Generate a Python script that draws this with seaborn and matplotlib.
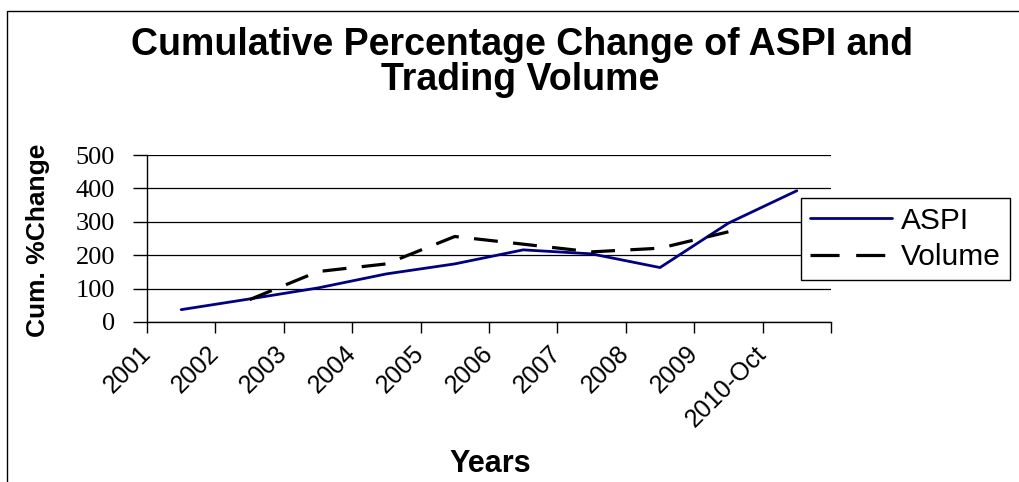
import numpy as np
import pandas as pd
import matplotlib
matplotlib.use("Agg")
import matplotlib.pyplot as plt
from matplotlib.patches import Rectangle
from matplotlib.transforms import ScaledTranslation
import seaborn as sns

# ---- data ----
years = ["2001", "2002", "2003", "2004", "2005", "2006", "2007", "2008", "2009", "2010-Oct"]
aspi = [37, 69, 102, 144, 174, 216, 204, 163, 296, 393]
volume = [np.nan, 67, 151, 174, 256, 233, 210, 221, 270, np.nan]
yticks = [0, 100, 200, 300, 400, 500]

sns.set_theme(style="white")
plt.rcParams["font.family"] = ["Liberation Sans", "DejaVu Sans"]
plt.rcParams["text.color"] = "black"
plt.rcParams["xtick.color"] = "black"
plt.rcParams["ytick.color"] = "black"
plt.rcParams["axes.labelcolor"] = "black"

W, H = 1020, 482
fig = plt.figure(figsize=(W / 100, H / 100), dpi=100)
ax = fig.add_axes([147 / W, 1 - 322 / H, (831 - 147) / W, (322 - 155) / H])

df = pd.DataFrame({"Year": years, "ASPI": aspi, "Volume": volume})

sns.lineplot(data=df, x="Year", y="ASPI", ax=ax, color="#000080", lw=2.0,
             label="ASPI", sort=False)
vol_df = df.dropna(subset=["Volume"])
sns.lineplot(x=vol_df["Year"], y=vol_df["Volume"], ax=ax, color="black", lw=2.3,
             label="Volume", sort=False, dashes=False)
ax.lines[1].set_dashes([7.5, 4.8])
ax.lines[1].set_dash_capstyle("butt")

ax.set_xlim(-0.5, len(years) - 0.5)
ax.set_ylim(0, 500)
ax.set_yticks(yticks)
ax.set_yticklabels([str(v) for v in yticks], fontfamily="Liberation Serif", fontsize=19)

ax.set_xticks(np.arange(-0.5, len(years), 1.0))
ax.set_xticklabels(years + [""], rotation=45, ha="right", va="center",
                   rotation_mode="anchor", fontsize=18)
shift = ScaledTranslation(7 / 100, 0, fig.dpi_scale_trans)
for lab in ax.get_xticklabels():
    lab.set_transform(lab.get_transform() + shift)

ax.tick_params(axis="y", direction="out", length=10, width=1, color="black", pad=13, left=True)
ax.tick_params(axis="x", direction="out", length=8, width=1, color="black", pad=12, bottom=True)

ax.grid(axis="y", color="black", lw=0.9)
ax.grid(axis="x", visible=False)
for s in ["top", "right"]:
    ax.spines[s].set_visible(False)
for s in ["left", "bottom"]:
    ax.spines[s].set_color("black")
    ax.spines[s].set_linewidth(1)

ax.set_xlabel("")
ax.set_ylabel("")

# axis labels
fig.text(38 / W, 1 - 240 / H, "Cum. %Change", rotation=90, ha="center", va="center",
         fontsize=19, fontweight="bold")
fig.text(490 / W, 1 - 464 / H, "Years", ha="center", va="center",
         fontsize=22, fontweight="bold")

# title
fig.text(522 / W, 1 - 55 / H, "Cumulative Percentage Change of ASPI and", ha="center",
         va="baseline", fontsize=27, fontweight="bold")
fig.text(520 / W, 1 - 90 / H, "Trading Volume", ha="center",
         va="baseline", fontsize=27, fontweight="bold")

# legend
leg = ax.legend(loc="center left", bbox_to_anchor=(801 / W, 1 - 239 / H),
                bbox_transform=fig.transFigure, borderaxespad=0, fontsize=21.5,
                frameon=True, fancybox=False, shadow=False, handlelength=2.75,
                handletextpad=0.3, labelspacing=0.3, borderpad=0.3)
leg.get_frame().set_edgecolor("black")
leg.get_frame().set_linewidth(1)
leg.get_frame().set_alpha(1)
leg.get_lines()[1].set_dashes([9.1, 5.2])
leg.get_lines()[1].set_dash_capstyle("butt")

# outer border
fig.patches.append(Rectangle((7 / W, -0.2), 2, (1 - 11 / H) + 0.2, transform=fig.transFigure,
                             fill=False, edgecolor="black", lw=1, clip_on=False))

fig.savefig("out.png", dpi=100)
